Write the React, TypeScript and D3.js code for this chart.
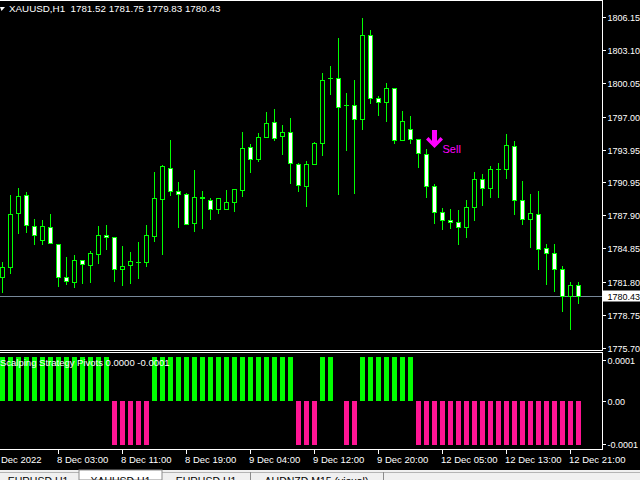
import React from "react";
import * as d3 from "d3";

// ---- Data (XAUUSD H1) ----
const opens = [1782.24,1783.11,1788.09,1789.74,1786.94,1785.60,1786.85,1785.28,1782.19,1781.78,1783.75,1783.29,1784.31,1786.06,1785.87,1782.92,1783.29,1783.60,1783.57,1786.02,1789.43,1792.23,1790.11,1789.84,1787.16,1789.53,1789.34,1788.45,1788.45,1789.10,1790.21,1794.17,1793.12,1795.09,1796.47,1795.18,1795.55,1792.60,1790.63,1792.60,1794.54,1800.53,1800.53,1798.07,1798.04,1796.75,1804.49,1798.68,1798.32,1799.61,1794.81,1795.83,1794.91,1793.52,1790.57,1788.18,1787.44,1787.26,1786.80,1788.64,1791.22,1790.39,1792.17,1792.19,1794.26,1789.28,1787.53,1787.99,1784.86,1784.40,1782.92,1780.43,1781.52];
const highs = [1783.60,1789.77,1790.42,1790.05,1787.56,1787.47,1788.02,1785.28,1784.06,1784.24,1783.75,1784.61,1786.91,1787.01,1785.87,1785.07,1784.52,1785.44,1787.01,1791.89,1792.51,1794.84,1790.97,1789.93,1792.08,1790.17,1789.50,1789.47,1790.23,1790.30,1795.58,1794.47,1795.46,1797.42,1797.70,1796.20,1796.87,1792.69,1792.91,1794.63,1801.02,1801.66,1804.24,1799.17,1800.37,1806.09,1804.98,1798.90,1800.07,1799.61,1797.51,1797.05,1794.91,1793.98,1790.79,1788.57,1788.48,1788.39,1789.31,1791.89,1791.71,1792.44,1792.72,1795.39,1794.72,1791.06,1789.86,1790.14,1785.23,1785.23,1783.20,1781.73,1781.75];
const lows = [1780.86,1782.61,1786.30,1786.39,1785.28,1785.28,1785.32,1781.41,1781.57,1781.32,1781.69,1781.78,1783.53,1784.77,1781.87,1781.48,1781.69,1782.15,1783.26,1785.56,1784.36,1789.80,1786.85,1787.07,1786.48,1786.76,1787.59,1788.14,1788.45,1788.33,1789.71,1791.89,1792.93,1795.09,1794.84,1793.55,1790.91,1790.17,1788.76,1792.60,1793.46,1799.08,1789.86,1793.92,1789.99,1795.88,1798.28,1797.17,1796.59,1794.59,1794.81,1794.59,1792.38,1789.62,1787.22,1786.67,1786.76,1785.28,1785.93,1787.50,1788.88,1789.62,1789.62,1791.37,1788.05,1787.13,1785.01,1782.98,1781.60,1780.95,1779.11,1777.45,1779.83];
const closes = [1783.11,1787.99,1789.65,1786.98,1786.06,1786.89,1785.32,1782.19,1781.82,1783.75,1783.39,1784.40,1786.06,1785.87,1782.92,1783.20,1783.66,1783.62,1786.06,1789.47,1792.42,1790.17,1789.84,1787.07,1789.56,1789.56,1788.45,1789.47,1789.15,1790.30,1794.08,1793.12,1795.09,1796.41,1795.05,1795.55,1792.69,1790.67,1792.60,1794.54,1800.34,1800.56,1797.91,1798.04,1796.75,1804.49,1798.68,1798.32,1799.61,1794.81,1796.57,1794.91,1793.62,1790.63,1788.18,1787.44,1787.26,1786.80,1788.64,1791.22,1790.39,1792.14,1792.20,1794.35,1789.28,1787.53,1788.09,1784.77,1784.40,1782.92,1780.43,1781.45,1780.43];

// Scalping Strategy Pivots histogram
const pivots = [
  0.0001,0.0001,0.0001,0.0001,0.0001,0.0001,0.0001,0.0001,0.0001,0.0001,0.0001,0.0001,0.0001,0.0001,
  -0.0001,-0.0001,-0.0001,-0.0001,-0.0001,
  0.0001,0.0001,0.0001,0.0001,0.0001,0.0001,0.0001,0.0001,0.0001,0.0001,0.0001,0.0001,0.0001,0.0001,0.0001,0.0001,0.0001,0.0001,
  -0.0001,-0.0001,-0.0001,
  0.0001,0.0001,
  0,
  -0.0001,-0.0001,
  0.0001,0.0001,0.0001,0.0001,0.0001,0.0001,0.0001,
  -0.0001,-0.0001,-0.0001,-0.0001,-0.0001,-0.0001,-0.0001,-0.0001,-0.0001,-0.0001,-0.0001,-0.0001,-0.0001,-0.0001,-0.0001,-0.0001,-0.0001,-0.0001,-0.0001,-0.0001,-0.0001,
];

const priceTicks = [1806.15, 1803.10, 1800.05, 1797.00, 1793.95, 1790.95, 1787.90, 1784.85, 1781.80, 1778.75, 1775.70];
const priceTickLabels = ["1806.15", "1803.10", "1800.05", "1797.00", "1793.95", "1790.95", "1787.90", "1784.85", "1781.80", "1778.75", "1775.70"];
const timeTickIndex = [-1, 7, 15, 23, 31, 39, 47, 55, 63, 71];
const timeTickLabels = ["7 Dec 2022", "8 Dec 03:00", "8 Dec 11:00", "8 Dec 19:00", "9 Dec 04:00", "9 Dec 12:00", "9 Dec 20:00", "12 Dec 05:00", "12 Dec 13:00", "12 Dec 21:00"];
const subTicks = [0.0001, 0, -0.0001];
const subTickLabels = ["0.0001", "0.00", "-0.0001"];
const tabLabels = ["EURUSD,H1", "XAUUSD,H1", "EURUSD,H1", "AUDNZD,M15 (visual)"];
const lastPrice = 1780.43;
const lastPriceLabel = "1780.43";
const sellIndex = 54;
const sellPrice = 1794.1;
const titleText = "XAUUSD,H1  1781.52 1781.75 1779.83 1780.43";
const indicatorText = "Scalping Strategy Pivots 0.0000 -0.0001";

const FONT = "'Liberation Sans', Arial, sans-serif";
const GREEN = "#00ff00";
const PINK = "#ff1493";
const MAGENTA = "#ff00ff";

export default function App() {
  const x = d3.scaleLinear().domain([0, 72]).range([2, 578]);
  const y = d3.scaleLinear().domain([1775.70, 1806.15]).range([347.7, 17.3]);
  const ys = d3.scaleLinear().domain([-0.0001, 0.0001]).range([445, 357]);
  const tabEdges = [-3, 79, 162, 250, 383];

  const candles = opens.map((o, i) => {
    const cx = Math.round(x(i));
    const yO = Math.round(y(o));
    const yC = Math.round(y(closes[i]));
    const yH = Math.round(y(highs[i]));
    const yL = Math.round(y(lows[i]));
    const top = Math.min(yO, yC);
    const bot = Math.max(yO, yC);
    const bull = closes[i] >= o;
    return (
      <g key={i}>
        <line x1={cx + 0.5} x2={cx + 0.5} y1={yH} y2={yL + 1} stroke={GREEN} strokeWidth={1} />
        {bot - top < 1 ? (
          <line x1={cx - 2} x2={cx + 3} y1={top + 0.5} y2={top + 0.5} stroke={GREEN} strokeWidth={1} />
        ) : (
          <rect x={cx - 1.5} y={top + 0.5} width={4} height={bot - top} fill={bull ? "#000" : "#fff"} stroke={GREEN} strokeWidth={1} />
        )}
      </g>
    );
  });

  const bars = pivots.map((v, i) => {
    if (v === 0) return null;
    const cx = Math.round(x(i));
    const y0 = ys(0);
    const y1 = ys(v);
    return (
      <rect key={i} x={cx - 2} y={Math.min(y0, y1)} width={5} height={Math.abs(y1 - y0)} fill={v > 0 ? GREEN : PINK} />
    );
  });

  const tx = Math.round(x(sellIndex)) + 0.5;
  const ty = Math.round(y(sellPrice));
  const arrow = [
    [tx - 2.5, ty - 18], [tx + 2.5, ty - 18], [tx + 2.5, ty - 7], [tx + 6, ty - 11], [tx + 8.5, ty - 8.5],
    [tx, ty], [tx - 8.5, ty - 8.5], [tx - 6, ty - 11], [tx - 2.5, ty - 7],
  ];
  const lastY = Math.round(y(lastPrice)) + 0.5;

  return (
    <svg width={640} height={480} style={{ position: "fixed", left: 0, top: 0, display: "block" }} fontFamily={FONT}>
      <rect x={0} y={0} width={640} height={480} fill="#000" />
      <defs>
        <clipPath id="mainClip"><rect x={0} y={1} width={602} height={349} /></clipPath>
        <clipPath id="subClip"><rect x={0} y={353} width={602} height={96} /></clipPath>
      </defs>

      {/* main window */}
      <g clipPath="url(#mainClip)">
        <line x1={0} x2={602} y1={lastY} y2={lastY} stroke="#778899" strokeWidth={1} />
        {candles}
        <polygon points={arrow.map((p) => p.join(",")).join(" ")} fill={MAGENTA} />
        <text x={tx + 8} y={ty + 4.5} fontSize={11} fill={MAGENTA}>Sell</text>
      </g>
      <polygon points="0,7 5,7 1.5,11" fill="#fff" />
      <text x={9} y={11.5} fontSize={9.8} fill="#fff" style={{ whiteSpace: "pre" }}>{titleText}</text>

      {/* frames */}
      <line x1={0} x2={602} y1={0.5} y2={0.5} stroke="#fff" />
      <line x1={0} x2={602} y1={350.5} y2={350.5} stroke="#fff" />
      <line x1={0} x2={602} y1={352.5} y2={352.5} stroke="#fff" />
      <line x1={0} x2={602.5} y1={449.5} y2={449.5} stroke="#fff" />
      <line x1={602.5} x2={602.5} y1={0} y2={351} stroke="#fff" />
      <line x1={602.5} x2={602.5} y1={352} y2={450} stroke="#fff" />

      {/* price axis */}
      {priceTicks.map((t, i) => {
        const ty2 = Math.round(y(t));
        return (
          <g key={i}>
            <line x1={602} x2={606} y1={ty2 + 0.5} y2={ty2 + 0.5} stroke="#fff" />
            <text x={607.5} y={ty2 + 4} fontSize={9} fill="#fff">{priceTickLabels[i]}</text>
          </g>
        );
      })}
      <rect x={603} y={lastY - 6} width={40} height={11} fill="#fff" />
      <text x={607.5} y={lastY + 3.5} fontSize={9} fill="#000">{lastPriceLabel}</text>

      {/* sub window */}
      <g clipPath="url(#subClip)">{bars}</g>
      <text x={0} y={365.5} fontSize={9.5} fill="#fff">{indicatorText}</text>
      {subTicks.map((t, i) => {
        const ty2 = Math.round(ys(t));
        const lab = Math.min(444, Math.max(360, ty2));
        return (
          <g key={i}>
            <line x1={602} x2={606} y1={lab + 0.5} y2={lab + 0.5} stroke="#fff" />
            <text x={607.5} y={lab + 3.5} fontSize={9} fill="#fff">{subTickLabels[i]}</text>
          </g>
        );
      })}

      {/* time axis */}
      {timeTickIndex.map((idx, i) => {
        const px = Math.round(x(idx));
        return (
          <g key={i}>
            <line x1={px + 0.5} x2={px + 0.5} y1={450} y2={454} stroke="#fff" />
            <text x={px - 1} y={463} fontSize={9.5} fill="#fff">{timeTickLabels[i]}</text>
          </g>
        );
      })}

      {/* tabs */}
      <rect x={0} y={470} width={640} height={10} fill="#f0f0f0" />
      <line x1={0} x2={640} y1={472.5} y2={472.5} stroke="#b4b4b4" />
      <rect x={tabEdges[1]} y={470} width={tabEdges[2] - tabEdges[1]} height={10} fill="#fff" stroke="#8c8c8c" />
      {tabLabels.map((t, i) => (
        <g key={i}>
          {i > 1 && <line x1={tabEdges[i + 1] + 0.5} x2={tabEdges[i + 1] + 0.5} y1={472} y2={480} stroke="#8c8c8c" />}
          <text x={(tabEdges[i] + tabEdges[i + 1]) / 2} y={484.5} fontSize={10.5} fill="#000" textAnchor="middle">{t}</text>
        </g>
      ))}
    </svg>
  );
}
